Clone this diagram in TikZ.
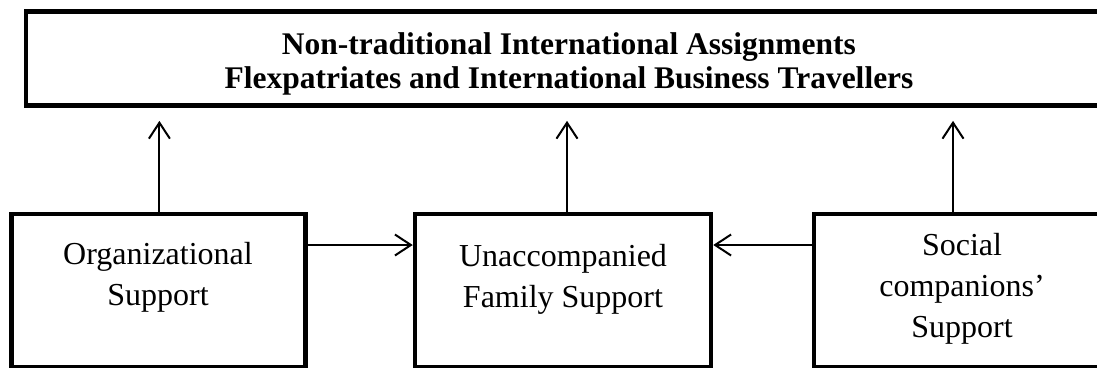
\documentclass[tikz,border=0pt]{standalone}
\usepackage{fontspec}
\setmainfont{Liberation Serif}
\usetikzlibrary{arrows.meta}

\tikzset{
  framebox/.style={draw, line width=4.5pt, inner sep=0pt, rectangle},
  boxtext/.style={inner sep=0pt, anchor=north, align=center,
    font=\fontsize{32}{41}\selectfont},
  headtext/.style={inner sep=0pt, anchor=north, align=center,
    font=\fontsize{31.5}{34}\selectfont\bfseries},
  flow/.style={draw, line width=2pt,
    -{Straight Barb[length=16pt,width=21pt,line width=2pt]}}
}

\begin{document}
\begin{tikzpicture}[x=1pt,y=-1pt]
  \useasboundingbox (0,0) rectangle (1097,367);
  \clip (0,0) rectangle (1097,367);

  % heading frame
  \node[framebox, minimum width=1082pt, minimum height=94pt] (head) at (567,58.6) {};
  \node[headtext] (headlbl) at (569,32)
    {Non-traditional International Assignments\\
     Flexpatriates and International Business Travellers};

  % support boxes, running past the lower edge
  \node[framebox, minimum width=294pt, minimum height=153pt] (org) at (158.4,290.5) {};
  \node[framebox, minimum width=296pt, minimum height=153pt] (fam) at (563,290.5) {};
  \node[framebox, minimum width=296pt, minimum height=153pt] (soc) at (962,290.5) {};

  \node[boxtext] (orglbl) at (158,242) {Organizational\\Support};
  \node[boxtext] (famlbl) at (563,244) {Unaccompanied\\Family Support};
  \node[boxtext] (soclbl) at (962,233) {Social\\companions'\\Support};

  % upward influences
  \draw[flow, shorten >=13pt] ([xshift=1pt]org.north) -- ([xshift=1pt]org.north |- head.south);
  \draw[flow, shorten >=13pt] ([xshift=4pt]fam.north) -- ([xshift=4pt]fam.north |- head.south);
  \draw[flow, shorten >=13pt] ([xshift=-9pt]soc.north) -- ([xshift=-9pt]soc.north |- head.south);

  % sideways influences
  \draw[flow] ([yshift=45.5pt]org.east) -- ([yshift=45.5pt]fam.west);
  \draw[flow] ([yshift=45.5pt]soc.west) -- ([yshift=45.5pt]fam.east);
\end{tikzpicture}
\end{document}
